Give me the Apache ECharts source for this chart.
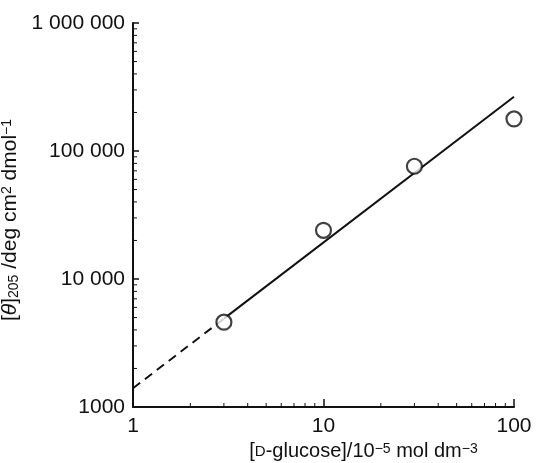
<!DOCTYPE html>
<html><head><meta charset="utf-8">
<script src="https://cdn.jsdelivr.net/npm/echarts@6/dist/echarts.min.js"></script>
<style>html,body{margin:0;padding:0;background:#fff}#c{width:537px;height:463px}</style>
</head><body><div id="c"></div>
<script>
// data
const concentrations = [3, 10, 30, 100];
const ellipticity = [4600, 24000, 76000, 178000];
const fitSolidX = [3, 100];
const fitSolidY = [4900, 265000];
const fitDashX = [1, 3];
const fitDashY = [1400, 4900];
const xTickLabels = ['1', '10', '100'];
const yTickLabels = ['1000', '10 000', '100 000', '1 000 000'];
const xMinorTicks = [2, 3, 4, 5, 6, 7, 8, 9, 20, 30, 40, 50, 60, 70, 80, 90];
const yMinorTicks = [2000, 3000, 4000, 5000, 6000, 7000, 8000, 9000,
  20000, 30000, 40000, 50000, 60000, 70000, 80000, 90000,
  200000, 300000, 400000, 500000, 600000, 700000, 800000, 900000];

const ink = '#111';
const font = 'Liberation Sans, Arial, Helvetica, sans-serif';
const zip = (a, b) => a.map((v, i) => [v, b[i]]);
const X_MIN = 1, X_MAX = 100, Y_MIN = 1000, Y_MAX = 1000000;

const chart = echarts.init(document.getElementById('c'), null, {renderer: 'canvas'});
const logAxis = (min, max) => ({
  type: 'log', logBase: 10, min: min, max: max,
  splitLine: {show: false}, minorSplitLine: {show: false}
});
// minor ticks drawn through the axis scales (custom series)
const minorTickSeries = (values, horizontal) => ({
  type: 'custom', xAxisIndex: 0, yAxisIndex: 0, silent: true, z: 5, clip: false,
  data: values.map(v => [v]),
  renderItem: (params, api) => {
    const v = api.value(0);
    const p = horizontal ? api.coord([v, Y_MIN]) : api.coord([X_MIN, v]);
    const end = horizontal ? [p[0], p[1] - 4] : [p[0] + 4, p[1]];
    return {type: 'line', shape: {x1: p[0], y1: p[1], x2: end[0], y2: end[1]},
      style: {stroke: ink, lineWidth: 1}};
  },
  encode: horizontal ? {x: 0} : {y: 0}
});
chart.setOption({
  animation: false,
  backgroundColor: '#fff',
  grid: {left: 133, right: 23, top: 23, bottom: 56, containLabel: false, outerBoundsMode: 'none'},
  xAxis: Object.assign(logAxis(X_MIN, X_MAX), {
    position: 'bottom',
    axisLine: {show: true, lineStyle: {color: ink, width: 2}},
    axisTick: {show: true, inside: true, length: 8, lineStyle: {color: ink, width: 1.5}},
    axisLabel: {fontSize: 21, color: ink, fontFamily: font, margin: 9,
      formatter: v => xTickLabels[Math.round(Math.log10(v))]},
    name: '[{sc|D}-glucose]/10{sup|−5} mol dm{sup|−3}',
    nameLocation: 'middle', nameGap: 28,
    nameTextStyle: {fontSize: 20, color: ink, fontFamily: font, padding: [0, 0, 0, 80],
      rich: {sc: {fontSize: 15, color: ink, fontFamily: font},
             sup: {fontSize: 14, color: ink, fontFamily: font, verticalAlign: 'top', lineHeight: 20}}}
  }),
  yAxis: Object.assign(logAxis(Y_MIN, Y_MAX), {
    position: 'left',
    axisLine: {show: true, lineStyle: {color: ink, width: 2}},
    axisTick: {show: true, inside: true, length: 6, lineStyle: {color: ink, width: 1.5}},
    axisLabel: {fontSize: 21, color: ink, fontFamily: font, margin: 8,
      formatter: v => yTickLabels[Math.round(Math.log10(v)) - 3]},
    name: '[{it|θ}]{sub|205} /deg cm{sup|2} dmol{sup|−1}',
    nameLocation: 'middle', nameGap: 96, nameRotate: 90,
    nameTextStyle: {fontSize: 21, color: ink, fontFamily: font, padding: [0, 10, 0, 0],
      rich: {it: {fontSize: 21, fontStyle: 'italic', color: ink, fontFamily: font},
             sub: {fontSize: 14, color: ink, fontFamily: font, verticalAlign: 'bottom', lineHeight: 21},
             sup: {fontSize: 14, color: ink, fontFamily: font, verticalAlign: 'top', lineHeight: 21}}}
  }),
  series: [
    minorTickSeries(xMinorTicks, true),
    minorTickSeries(yMinorTicks, false),
    {type: 'line', data: zip(fitDashX, fitDashY), showSymbol: false,
      lineStyle: {color: ink, width: 2, type: [9, 6]}, z: 2},
    {type: 'line', data: zip(fitSolidX, fitSolidY), showSymbol: false,
      lineStyle: {color: ink, width: 2}, z: 2},
    {type: 'scatter', data: zip(concentrations, ellipticity),
      symbol: 'circle', symbolSize: 15,
      itemStyle: {color: '#fff', borderColor: ink, borderWidth: 2.2}, z: 3}
  ]
});
</script>
</body></html>
